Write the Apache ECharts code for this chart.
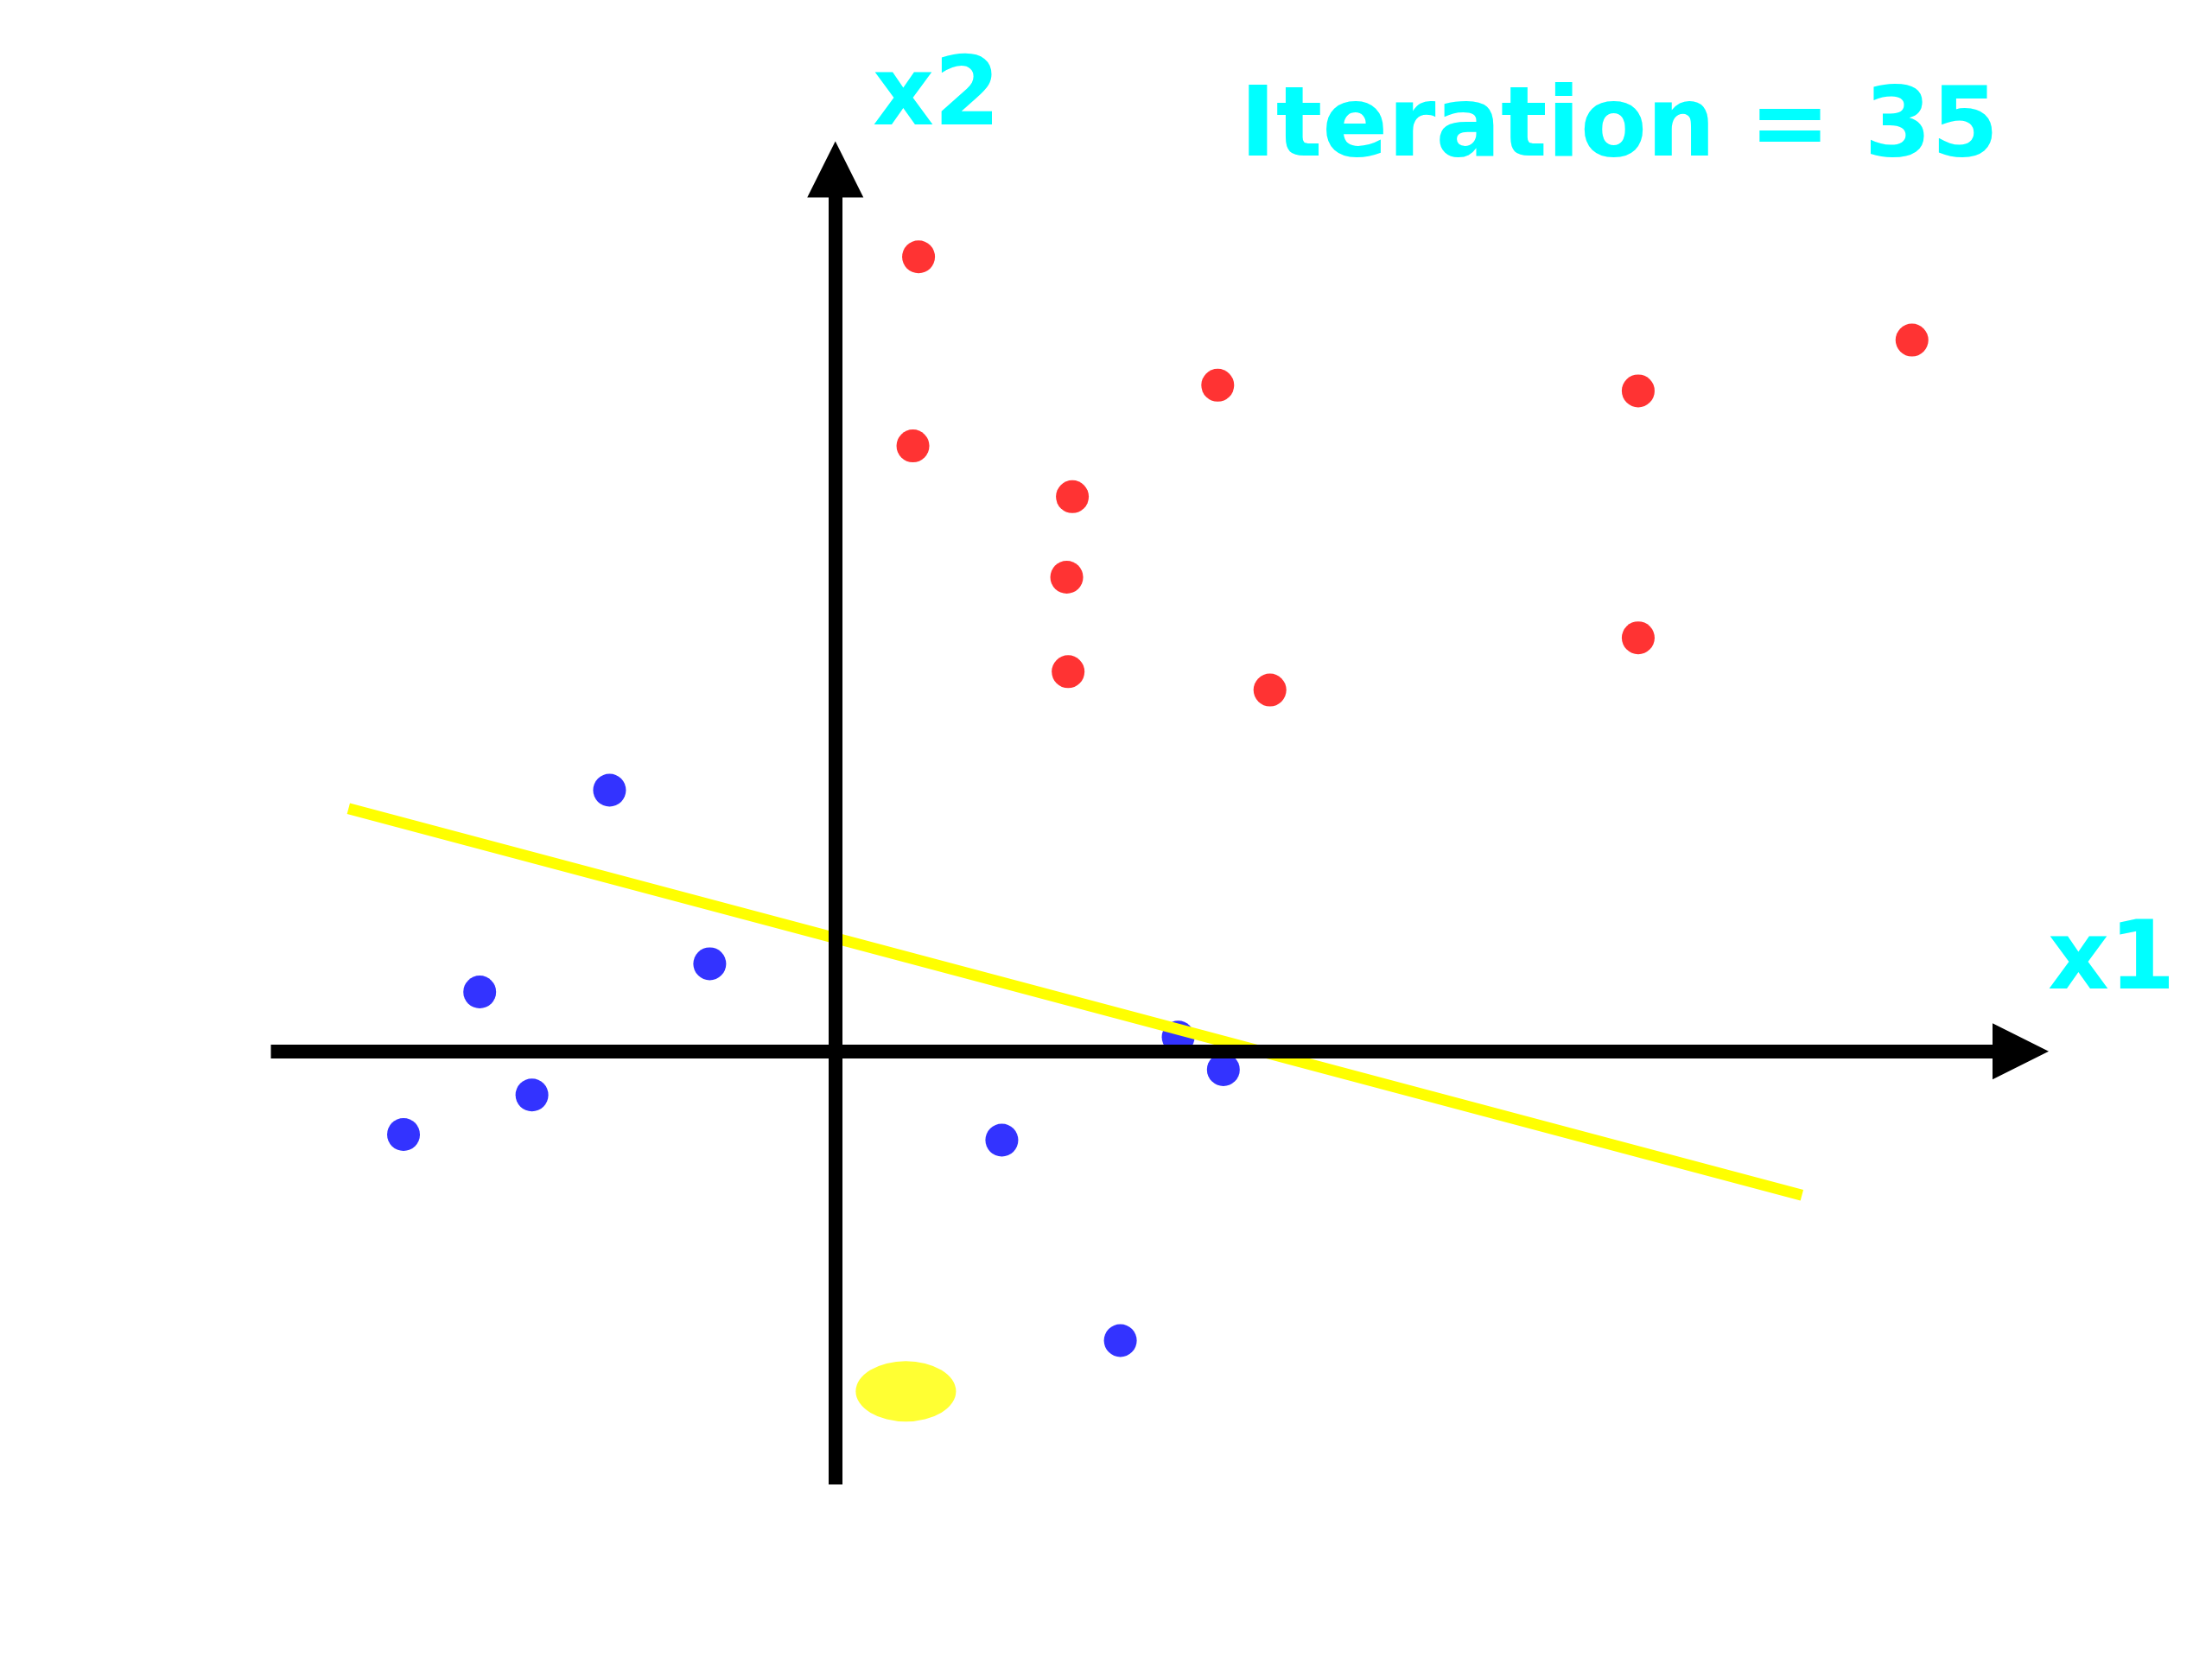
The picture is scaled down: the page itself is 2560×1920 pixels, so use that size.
<!DOCTYPE html>
<html><head><meta charset="utf-8">
<script src="https://cdn.jsdelivr.net/npm/echarts@6/dist/echarts.min.js"></script>
<style>html,body{margin:0;background:#fff}#c{width:2560px;height:1920px}</style>
</head><body><div id="c"></div>
<script>
const redPoints = [[0.59,5.63],[2.71,4.72],[5.69,4.68],[7.63,5.04],[0.55,4.29],[1.68,3.93],[1.64,3.36],[1.65,2.69],[3.08,2.56],[5.69,2.93]];
const bluePoints = [[-1.60,1.85],[-2.52,0.42],[-0.89,0.62],[-2.15,-0.31],[-3.06,-0.59],[1.18,-0.63],[2.75,-0.13],[2.43,0.10],[2.02,-2.05]];
const boundary = [[-3.45,1.72],[6.85,-1.02]];
const marker = [[0.50,-2.41]];
const xRange = [-4, 8.4], yRange = [-3.07, 6.25];
const chart = echarts.init(document.getElementById('c'));
chart.setOption({
  animation:false,
  grid:{left:313.5,right:221.5,top:196,bottom:202},
  xAxis:{type:'value',min:xRange[0],max:xRange[1],show:false},
  yAxis:{type:'value',min:yRange[0],max:yRange[1],show:false},
  graphic:[
    {type:'text',left:1010,top:60,style:{text:'x2',fill:'#00ffff',font:'bold 110px "Comic Sans MS","DejaVu Sans"'}},
    {type:'text',left:2370,top:1060,style:{text:'x1',fill:'#00ffff',font:'bold 110px "Comic Sans MS","DejaVu Sans"'}},
    {type:'text',left:1435,top:95,style:{text:'Iteration = 35',fill:'#00ffff',font:'bold 112px "DejaVu Sans"'}}
  ],
  series:[
    {type:'scatter',data:bluePoints,symbolSize:38,itemStyle:{color:'#0000ff'},z:1},
    {type:'scatter',data:redPoints,symbolSize:38,itemStyle:{color:'#ff0000'},z:1},
    {type:'scatter',data:marker,symbol:'circle',symbolSize:[116,70],itemStyle:{color:'#ffff00'},z:1},
    {type:'line',data:[],z:2,markLine:{silent:true,animation:false,label:{show:false},
      lineStyle:{color:'#000',width:16,type:'solid'},symbol:['none','triangle'],symbolSize:[65,65],
      data:[[{coord:[xRange[0],0]},{coord:[xRange[1],0],symbolRotate:-90}],
            [{coord:[0,yRange[0]]},{coord:[0,yRange[1]]}]]}},
    {type:'line',data:boundary,symbol:'none',lineStyle:{color:'#ffff00',width:13},z:3}
  ]
});
</script></body></html>
